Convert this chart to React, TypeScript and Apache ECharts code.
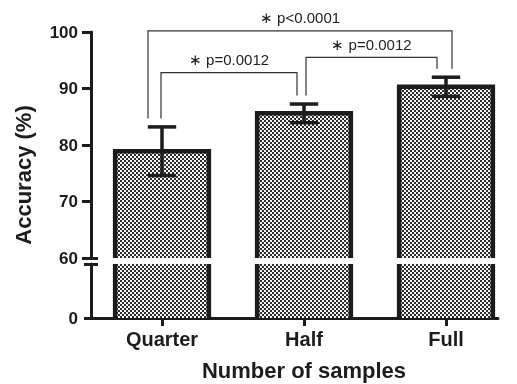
import { useEffect, useRef } from 'react';
import * as echarts from 'echarts';

// ---- data ----
const categories = ['Quarter', 'Half', 'Full'];
const accuracy = [78.9, 85.6, 90.3];
const errors = [4.3, 1.65, 1.7];
const upperTicks = [60, 70, 80, 90, 100];
const lowerTicks = [0];
const BREAK_VALUE = 60;
const compFrom = [0, 1, 0];
const compTo = [1, 2, 2];
const compLabels = ['\u2217 p=0.0012', '\u2217 p=0.0012', '\u2217 p<0.0001'];

// ---- layout / style ----
const BRACKET_LEVELS = [92.8, 95.5, 100.2];
const LEG_OFFSETS = [[-1, -7], [2, -9], [-14, 6]];
const LEG_GAP_PX = 8.5;
const BAR_RATIO = 0.66;
const CAP_RATIO = 0.2;
const INK = '#1c1c1c';
const FONT = '"Liberation Sans", Arial, sans-serif';

function makePattern() {
  const c = document.createElement('canvas');
  c.width = 4;
  c.height = 4;
  const ctx = c.getContext('2d')!;
  ctx.fillStyle = '#f6f6f6';
  ctx.fillRect(0, 0, 4, 4);
  ctx.fillStyle = '#2e2e2e';
  ctx.fillRect(0, 0, 2, 2);
  ctx.fillRect(2, 2, 2, 2);
  return { image: c.toDataURL(), repeat: 'repeat', imageWidth: 4, imageHeight: 4 };
}

export default function App() {
  const ref = useRef<HTMLDivElement>(null);

  useEffect(() => {
    if (!ref.current) return;
    const chart = echarts.init(ref.current, null, { renderer: 'svg' });
    const pattern = makePattern();

    const barData = categories.map((_, i) => [i, accuracy[i]]);
    const errData = categories.map((_, i) => [i, accuracy[i], errors[i]]);
    const compData = compFrom.map((f, k) => [f, compTo[k], BRACKET_LEVELS[k]]);

    const upperBars = (params: any, api: any) => {
      const i = api.value(0);
      const v = api.value(1);
      const [cx, yTop] = api.coord([i, v]);
      const [, yBase] = api.coord([i, BREAK_VALUE]);
      const w = api.size([1, 0])[0] * BAR_RATIO;
      const x0 = cx - w / 2;
      const x1 = cx + w / 2;
      return {
        type: 'group',
        children: [
          { type: 'rect', shape: { x: x0, y: yTop, width: w, height: yBase - yTop }, style: { fill: pattern } },
          {
            type: 'polyline',
            shape: { points: [[x0, yBase], [x0, yTop], [x1, yTop], [x1, yBase]] },
            style: { fill: 'none', stroke: INK, lineWidth: 4.5, lineJoin: 'miter' },
          },
        ],
      };
    };

    const lowerBars = (params: any, api: any) => {
      const i = api.value(0);
      const [cx, yBase] = api.coord([i, 0]);
      const [, yTop] = api.coord([i, BREAK_VALUE]);
      const w = api.size([1, 0])[0] * BAR_RATIO;
      const x0 = cx - w / 2;
      const x1 = cx + w / 2;
      return {
        type: 'group',
        children: [
          { type: 'rect', shape: { x: x0, y: yTop, width: w, height: yBase - yTop }, style: { fill: pattern } },
          { type: 'line', shape: { x1: x0, y1: yTop, x2: x0, y2: yBase }, style: { stroke: INK, lineWidth: 4.5 } },
          { type: 'line', shape: { x1: x1, y1: yTop, x2: x1, y2: yBase }, style: { stroke: INK, lineWidth: 4.5 } },
        ],
      };
    };

    const errorBars = (params: any, api: any) => {
      const i = api.value(0);
      const v = api.value(1);
      const e = api.value(2);
      const [cx, yHi] = api.coord([i, v + e]);
      const [, yLo] = api.coord([i, v - e]);
      const cw = api.size([1, 0])[0] * CAP_RATIO;
      const st = { stroke: INK, lineWidth: 3.5 };
      return {
        type: 'group',
        children: [
          { type: 'line', shape: { x1: cx, y1: yHi, x2: cx, y2: yLo }, style: st },
          { type: 'line', shape: { x1: cx - cw / 2, y1: yHi, x2: cx + cw / 2, y2: yHi }, style: st },
          { type: 'line', shape: { x1: cx - cw / 2, y1: yLo, x2: cx + cw / 2, y2: yLo }, style: st },
        ],
      };
    };

    const brackets = (params: any, api: any) => {
      const k = params.dataIndex;
      const a = api.value(0);
      const b = api.value(1);
      const lvl = api.value(2);
      const [ax, yLine] = api.coord([a, lvl]);
      const [bx] = api.coord([b, lvl]);
      const [, aTop] = api.coord([a, accuracy[a] + errors[a]]);
      const [, bTop] = api.coord([b, accuracy[b] + errors[b]]);
      const xa = ax + LEG_OFFSETS[k][0];
      const xb = bx + LEG_OFFSETS[k][1];
      return {
        type: 'group',
        children: [
          {
            type: 'polyline',
            shape: { points: [[xa, aTop - LEG_GAP_PX], [xa, yLine], [xb, yLine], [xb, bTop - LEG_GAP_PX]] },
            style: { fill: 'none', stroke: '#333', lineWidth: 1.2 },
          },
          {
            type: 'text',
            x: (xa + xb) / 2,
            y: yLine - 13,
            style: {
              text: compLabels[k],
              fontSize: 15,
              fontFamily: FONT,
              fill: '#222',
              align: 'center',
              verticalAlign: 'middle',
            },
          },
        ],
      };
    };

    const labelStyle = { color: INK, fontFamily: FONT, fontWeight: 'bold' as const };

    chart.setOption({
      animation: false,
      grid: [
        { left: 91, right: 0, top: 32, height: 226 },
        { left: 91, right: 0, top: 264, height: 54 },
        { left: 91, right: 19, top: 32, bottom: 66 },
      ],
      xAxis: [
        { type: 'category', gridIndex: 0, data: categories, show: false },
        {
          type: 'category',
          gridIndex: 1,
          data: categories,
          axisLine: { show: false },
          axisTick: { show: true, alignWithLabel: true, length: 8, lineStyle: { color: INK, width: 3 } },
          axisLabel: { ...labelStyle, fontSize: 20, margin: 11 },
          name: 'Number of samples',
          nameLocation: 'middle',
          nameGap: 41,
          nameTextStyle: { ...labelStyle, fontSize: 22 },
          splitLine: { show: false },
        },
        {
          type: 'value',
          gridIndex: 2,
          min: 0,
          max: 1,
          axisLine: { show: true, lineStyle: { color: INK, width: 3 } },
          axisTick: { show: false },
          axisLabel: { show: false },
          splitLine: { show: false },
        },
      ],
      yAxis: [
        {
          type: 'value',
          gridIndex: 0,
          position: 'left',
          min: upperTicks[0],
          max: upperTicks[upperTicks.length - 1],
          interval: 10,
          axisLine: { show: true, lineStyle: { color: INK, width: 3 } },
          axisTick: { show: true, length: 9, lineStyle: { color: INK, width: 3 } },
          axisLabel: { ...labelStyle, fontSize: 17, margin: 13 },
          splitLine: { show: false },
        },
        {
          type: 'value',
          gridIndex: 1,
          position: 'left',
          min: 0,
          max: BREAK_VALUE,
          interval: BREAK_VALUE,
          axisLine: { show: true, lineStyle: { color: INK, width: 3 } },
          axisTick: { show: true, length: 7, lineStyle: { color: INK, width: 3 } },
          axisLabel: {
            ...labelStyle,
            fontSize: 17,
            margin: 13,
            formatter: (v: number) => (lowerTicks.includes(v) ? String(v) : ''),
          },
          splitLine: { show: false },
        },
        {
          type: 'value',
          gridIndex: 2,
          position: 'left',
          min: 0,
          max: 1,
          axisLine: { show: false },
          axisTick: { show: false },
          axisLabel: { show: false },
          splitLine: { show: false },
          name: 'Accuracy (%)',
          nameLocation: 'middle',
          nameGap: 57,
          nameTextStyle: { ...labelStyle, fontSize: 22 },
        },
        {
          type: 'value',
          gridIndex: 0,
          position: 'left',
          min: upperTicks[0],
          max: upperTicks[upperTicks.length - 1],
          axisLine: { show: false },
          axisTick: { show: true, inside: true, length: 7, customValues: [BREAK_VALUE], lineStyle: { color: INK, width: 3 } },
          axisLabel: { show: false },
          splitLine: { show: false },
        },
        {
          type: 'value',
          gridIndex: 1,
          position: 'left',
          min: 0,
          max: BREAK_VALUE,
          axisLine: { show: false },
          axisTick: { show: true, inside: true, length: 7, customValues: [BREAK_VALUE], lineStyle: { color: INK, width: 3 } },
          axisLabel: { show: false },
          splitLine: { show: false },
        },
      ],
      series: [
        { type: 'custom', xAxisIndex: 0, yAxisIndex: 0, data: barData, renderItem: upperBars, clip: false, z: 2 },
        { type: 'custom', xAxisIndex: 1, yAxisIndex: 1, data: barData, renderItem: lowerBars, clip: false, z: 2 },
        { type: 'custom', xAxisIndex: 0, yAxisIndex: 0, data: errData, renderItem: errorBars, clip: false, z: 3 },
        { type: 'custom', xAxisIndex: 0, yAxisIndex: 0, data: compData, renderItem: brackets, clip: false, z: 3 },
      ],
    });

    return () => chart.dispose();
  }, []);

  return <div ref={ref} style={{ position: 'fixed', left: 0, top: 0, width: 517, height: 384 }} />;
}
